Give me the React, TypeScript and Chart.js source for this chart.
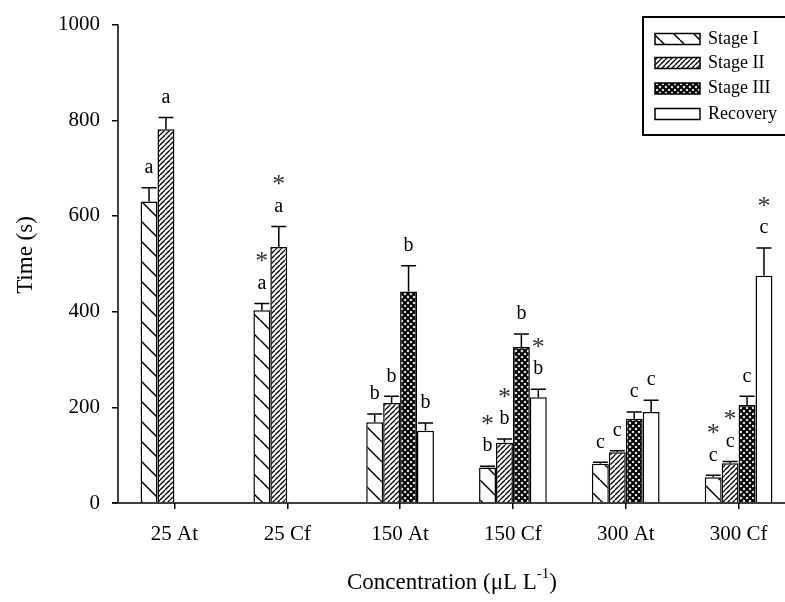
import React, { useEffect, useRef } from "react";
import { Chart, registerables } from "chart.js";

Chart.register(...registerables);

const categories = ["25 At", "25 Cf", "150 At", "150 Cf", "300 At", "300 Cf"];
const seriesNames = ["Stage I", "Stage II", "Stage III", "Recovery"];

const stage1 = [630, 403, 169, 74, 82, 54];
const stage1Err = [29, 14, 17, 3, 3, 4];
const stage2 = [781, 535, 209, 126, 106, 83];
const stage2Err = [25, 43, 14, 8, 3, 4];
const stage3 = [null, null, 442, 326, 176, 205];
const stage3Err = [null, null, 54, 27, 14, 18];
const recovery = [null, null, 151, 221, 190, 475];
const recoveryErr = [null, null, 16, 17, 25, 58];

const stage1Letters = ["a", "a", "b", "b", "c", "c"];
const stage2Letters = ["a", "a", "b", "b", "c", "c"];
const stage3Letters = ["", "", "b", "b", "c", "c"];
const recoveryLetters = ["", "", "b", "b", "c", "c"];
const stage1Stars = [false, true, false, true, false, true];
const stage2Stars = [false, true, false, true, false, true];
const stage3Stars = [false, false, false, false, false, false];
const recoveryStars = [false, false, false, true, false, true];

const yMin = 0;
const yMax = 1000;
const yStep = 200;

const xTitleMain = "Concentration (μL L";
const xTitleSup = "-1";
const xTitleEnd = ")";
const yTitle = "Time (s)";

const FONT = "'Liberation Serif', 'Times New Roman', serif";

function makePattern(kind: string): CanvasPattern | string {
  const c = document.createElement("canvas");
  let s = 20;
  if (kind === "slash") s = 5;
  if (kind === "cross") s = 6;
  c.width = s;
  c.height = s;
  const g = c.getContext("2d")!;
  g.fillStyle = "#fff";
  g.fillRect(0, 0, s, s);
  g.strokeStyle = "#000";
  if (kind === "back") {
    g.lineWidth = 1.5;
    for (let k = -1; k <= 1; k++) {
      g.beginPath();
      g.moveTo(k * s, 0);
      g.lineTo(k * s + s, s);
      g.stroke();
    }
  } else if (kind === "slash") {
    g.lineWidth = 1.3;
    for (let k = -1; k <= 1; k++) {
      g.beginPath();
      g.moveTo(k * s, s);
      g.lineTo(k * s + s, 0);
      g.stroke();
    }
  } else if (kind === "cross") {
    g.lineWidth = 2.2;
    for (let k = -1; k <= 1; k++) {
      g.beginPath();
      g.moveTo(k * s, s);
      g.lineTo(k * s + s, 0);
      g.moveTo(k * s, 0);
      g.lineTo(k * s + s, s);
      g.stroke();
    }
  }
  return g.createPattern(c, "repeat") || "#fff";
}

export default function App() {
  const ref = useRef<HTMLCanvasElement | null>(null);

  useEffect(() => {
    const canvas = ref.current;
    if (!canvas) return;
    const patterns = [makePattern("back"), makePattern("slash"), makePattern("cross"), "#ffffff"];
    const values = [stage1, stage2, stage3, recovery];
    const errs = [stage1Err, stage2Err, stage3Err, recoveryErr];
    const letters = [stage1Letters, stage2Letters, stage3Letters, recoveryLetters];
    const stars = [stage1Stars, stage2Stars, stage3Stars, recoveryStars];

    const annot = {
      id: "annot",
      afterDatasetsDraw(chart: any) {
        const ctx = chart.ctx;
        const ys = chart.scales.y;
        values.forEach((vals, i) => {
          const meta = chart.getDatasetMeta(i);
          meta.data.forEach((el: any, j: number) => {
            const v = vals[j];
            if (v == null) return;
            const e = (errs[i][j] as number) || 0;
            const x = el.x;
            const barTop = ys.getPixelForValue(v);
            const top = ys.getPixelForValue(v + e);
            ctx.save();
            ctx.strokeStyle = "#000";
            ctx.lineWidth = 1.5;
            ctx.beginPath();
            ctx.moveTo(x, barTop);
            ctx.lineTo(x, top);
            ctx.moveTo(x - 7.5, top);
            ctx.lineTo(x + 7.5, top);
            ctx.stroke();
            ctx.textAlign = "center";
            ctx.textBaseline = "middle";
            const L = letters[i][j];
            if (L) {
              ctx.fillStyle = "#000";
              ctx.font = `20px ${FONT}`;
              ctx.fillText(L, x, top - 20);
            }
            if (stars[i][j]) {
              ctx.fillStyle = "#333";
              ctx.font = `26px ${FONT}`;
              ctx.fillText("*", x, top - 41);
            }
            ctx.restore();
          });
        });
      },
      afterDraw(chart: any) {
        const ctx = chart.ctx;
        const ca = chart.chartArea;
        ctx.save();
        ctx.strokeStyle = "#000";
        ctx.lineWidth = 1.5;
        ctx.beginPath();
        ctx.moveTo(ca.left, ca.top);
        ctx.lineTo(ca.left, ca.bottom);
        ctx.moveTo(ca.left - 6, ca.bottom);
        ctx.lineTo(chart.width, ca.bottom);
        ctx.stroke();

        // legend
        ctx.lineWidth = 2;
        ctx.fillStyle = "#fff";
        ctx.fillRect(643, 17, 200, 118);
        ctx.strokeRect(643, 17, 200, 118);
        const rowY = [39, 63, 88.5, 114];
        seriesNames.forEach((name, i) => {
          const cy = rowY[i];
          ctx.fillStyle = patterns[i] as any;
          ctx.fillRect(655, cy - 5.5, 45, 11);
          ctx.lineWidth = 1.5;
          ctx.strokeStyle = "#000";
          ctx.strokeRect(655, cy - 5.5, 45, 11);
          ctx.fillStyle = "#000";
          ctx.font = `18px ${FONT}`;
          ctx.textAlign = "left";
          ctx.textBaseline = "middle";
          ctx.fillText(name, 708, cy);
        });

        // y title
        ctx.save();
        ctx.translate(26, 255);
        ctx.rotate(-Math.PI / 2);
        ctx.font = `23px ${FONT}`;
        ctx.textAlign = "center";
        ctx.textBaseline = "middle";
        ctx.fillStyle = "#000";
        ctx.fillText(yTitle, 0, 0);
        ctx.restore();

        // x title
        ctx.fillStyle = "#000";
        ctx.textBaseline = "middle";
        ctx.textAlign = "left";
        ctx.font = `23px ${FONT}`;
        const w1 = ctx.measureText(xTitleMain).width;
        const w3 = ctx.measureText(xTitleEnd).width;
        ctx.font = `15px ${FONT}`;
        const w2 = ctx.measureText(xTitleSup).width;
        const total = w1 + w2 + w3;
        const x0 = 452 - total / 2;
        const ty = 583;
        ctx.font = `23px ${FONT}`;
        ctx.fillText(xTitleMain, x0, ty);
        ctx.font = `15px ${FONT}`;
        ctx.fillText(xTitleSup, x0 + w1, ty - 9);
        ctx.font = `23px ${FONT}`;
        ctx.fillText(xTitleEnd, x0 + w1 + w2, ty);
        ctx.restore();
      },
    };

    const chart = new Chart(canvas, {
      type: "bar",
      data: {
        labels: categories,
        datasets: seriesNames.map((name, i) => ({
          label: name,
          data: values[i] as any,
          backgroundColor: patterns[i] as any,
          borderColor: "#000",
          borderWidth: 1.5,
          categoryPercentage: 0.6,
          barPercentage: 1.0,
        })),
      },
      options: {
        responsive: false,
        animation: false,
        layout: { padding: { left: 0, top: 18, right: 5, bottom: 0 } },
        plugins: {
          legend: { display: false },
          tooltip: { enabled: false },
          title: { display: false },
        },
        scales: {
          x: {
            offset: true,
            border: { display: false },
            grid: {
              offset: false,
              drawOnChartArea: false,
              drawTicks: true,
              tickLength: 6,
              color: "#000",
              lineWidth: 1.5,
            },
            ticks: {
              color: "#000",
              font: { family: FONT, size: 21 },
              padding: 13,
              maxRotation: 0,
            },
            afterFit: (scale: any) => {
              scale.height = 99;
            },
          },
          y: {
            min: yMin,
            max: yMax,
            border: { display: false },
            grid: {
              drawOnChartArea: false,
              drawTicks: true,
              tickLength: 6,
              color: "#000",
              lineWidth: 1.5,
            },
            ticks: {
              stepSize: yStep,
              color: "#000",
              font: { family: FONT, size: 21 },
              padding: 12,
              callback: (v: any) => String(v),
            },
            afterFit: (scale: any) => {
              scale.width = 118;
            },
          },
        },
      },
      plugins: [annot],
    });
    return () => chart.destroy();
  }, []);

  return (
    <div
      style={{
        position: "fixed",
        left: 0,
        top: 0,
        width: 785,
        height: 602,
        overflow: "hidden",
        background: "#fff",
      }}
    >
      <canvas ref={ref} width={800} height={602} style={{ width: 800, height: 602, display: "block" }} />
    </div>
  );
}
